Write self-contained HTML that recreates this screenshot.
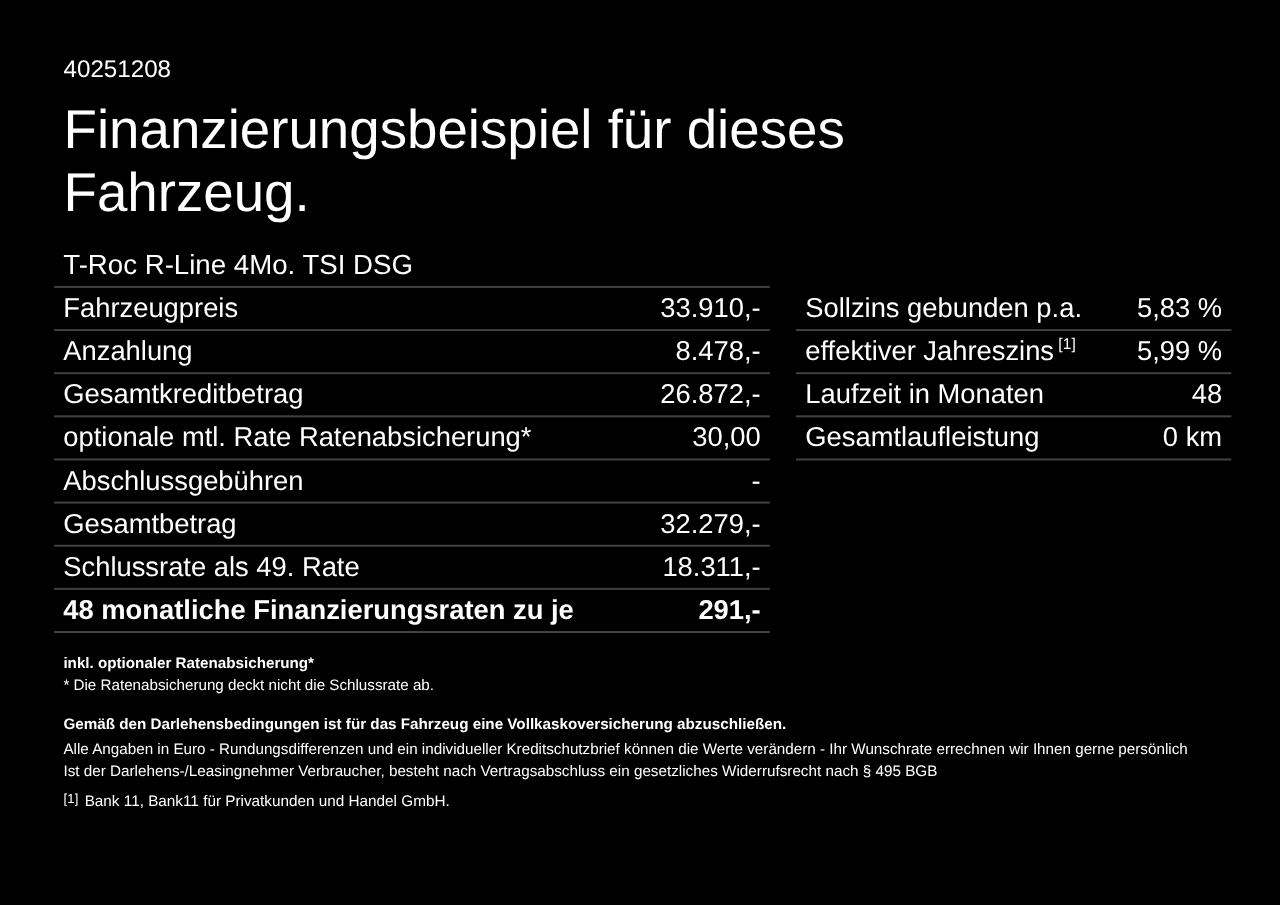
<!DOCTYPE html>
<html lang="de">
<head>
<meta charset="utf-8">
<title>Finanzierungsbeispiel</title>
<style>
html,body{margin:0;padding:0;background:#000;}
body{width:1280px;height:905px;position:relative;overflow:hidden;color:#fff;
  font-family:"Liberation Sans",Arial,Helvetica,sans-serif;text-rendering:geometricPrecision;}
.t{position:absolute;white-space:nowrap;line-height:1;}
.id{left:63.6px;top:58px;font-size:24.15px;}
h1{margin:0;font-weight:normal;position:absolute;left:63.5px;top:98px;font-size:54.7px;line-height:63.4px;white-space:nowrap;}
.model{left:63.3px;top:251px;font-size:27.65px;}
svg.lines{position:absolute;left:0;top:0;width:1280px;height:905px;}
svg.lines rect{fill:#414141;}
.tbl{position:absolute;}
.tbl .r{position:relative;height:43.13px;font-size:27.35px;line-height:43px;white-space:nowrap;}
.tbl .r span{position:absolute;top:0;}
.tbl .r .l{left:9.3px;}
.tbl .r .v{right:9.3px;text-align:right;}
.tbl .r.b{font-weight:bold;}
#t1{left:54px;top:286px;width:716px;}
#t2{left:796px;top:286px;width:435.4px;}
.tbl .r sup{position:relative;top:-11.5px;font-size:15.5px;line-height:1;vertical-align:baseline;margin-left:4.2px;letter-spacing:0.2px;}
.s{font-size:15.23px;}
.s.b{font-weight:bold;}
.fn{font-size:13px;position:relative;top:-2.7px;letter-spacing:0.2px;}
</style>
</head>
<body>
<svg class="lines" viewBox="0 0 1280 905" shape-rendering="geometricPrecision"><rect x="54.1" y="285.95" width="715.7" height="2"/><rect x="54.1" y="329.08" width="715.7" height="2"/><rect x="54.1" y="372.21" width="715.7" height="2"/><rect x="54.1" y="415.34" width="715.7" height="2"/><rect x="54.1" y="458.47" width="715.7" height="2"/><rect x="54.1" y="501.60" width="715.7" height="2"/><rect x="54.1" y="544.73" width="715.7" height="2"/><rect x="54.1" y="587.86" width="715.7" height="2"/><rect x="54.1" y="630.99" width="715.7" height="2"/><rect x="795.9" y="329.08" width="435.4" height="2"/><rect x="795.9" y="372.21" width="435.4" height="2"/><rect x="795.9" y="415.34" width="435.4" height="2"/><rect x="795.9" y="458.47" width="435.4" height="2"/></svg>
<div class="t id">40251208</div>
<h1>Finanzierungsbeispiel für dieses<br>Fahrzeug.</h1>
<div class="t model">T-Roc R-Line 4Mo. TSI DSG</div>
<div class="tbl" id="t1">
  <div class="r"><span class="l">Fahrzeugpreis</span><span class="v">33.910,-</span></div>
  <div class="r"><span class="l">Anzahlung</span><span class="v">8.478,-</span></div>
  <div class="r"><span class="l">Gesamtkreditbetrag</span><span class="v">26.872,-</span></div>
  <div class="r"><span class="l">optionale mtl. Rate Ratenabsicherung*</span><span class="v">30,00</span></div>
  <div class="r"><span class="l">Abschlussgebühren</span><span class="v">-</span></div>
  <div class="r"><span class="l">Gesamtbetrag</span><span class="v">32.279,-</span></div>
  <div class="r"><span class="l">Schlussrate als 49. Rate</span><span class="v">18.311,-</span></div>
  <div class="r b"><span class="l">48 monatliche Finanzierungsraten zu je</span><span class="v">291,-</span></div>
</div>
<div class="tbl" id="t2">
  <div class="r"><span class="l">Sollzins gebunden p.a.</span><span class="v">5,83 %</span></div>
  <div class="r"><span class="l">effektiver Jahreszins<sup>[1]</sup></span><span class="v">5,99 %</span></div>
  <div class="r"><span class="l">Laufzeit in Monaten</span><span class="v">48</span></div>
  <div class="r"><span class="l">Gesamtlaufleistung</span><span class="v">0 km</span></div>
</div>
<div class="t s b" style="left:63.4px;top:656px;font-size:15.19px;">inkl. optionaler Ratenabsicherung*</div>
<div class="t s" style="left:63.4px;top:678px;font-size:15.19px;">* Die Ratenabsicherung deckt nicht die Schlussrate ab.</div>
<div class="t s b" style="left:63.4px;top:717px;">Gemäß den Darlehensbedingungen ist für das Fahrzeug eine Vollkaskoversicherung abzuschließen.</div>
<div class="t s" style="left:63.4px;top:742px;">Alle Angaben in Euro - Rundungsdifferenzen und ein individueller Kreditschutzbrief können die Werte verändern - Ihr Wunschrate errechnen wir Ihnen gerne persönlich</div>
<div class="t s" style="left:63.4px;top:764px;font-size:15.26px;">Ist der Darlehens-/Leasingnehmer Verbraucher, besteht nach Vertragsabschluss ein gesetzliches Widerrufsrecht nach § 495 BGB</div>
<div class="t s" style="left:63.4px;top:794px;font-size:15.3px;"><span class="fn">[1]</span><span style="display:inline-block;width:6.2px"></span>Bank 11, Bank11 für Privatkunden und Handel GmbH.</div>
</body>
</html>
